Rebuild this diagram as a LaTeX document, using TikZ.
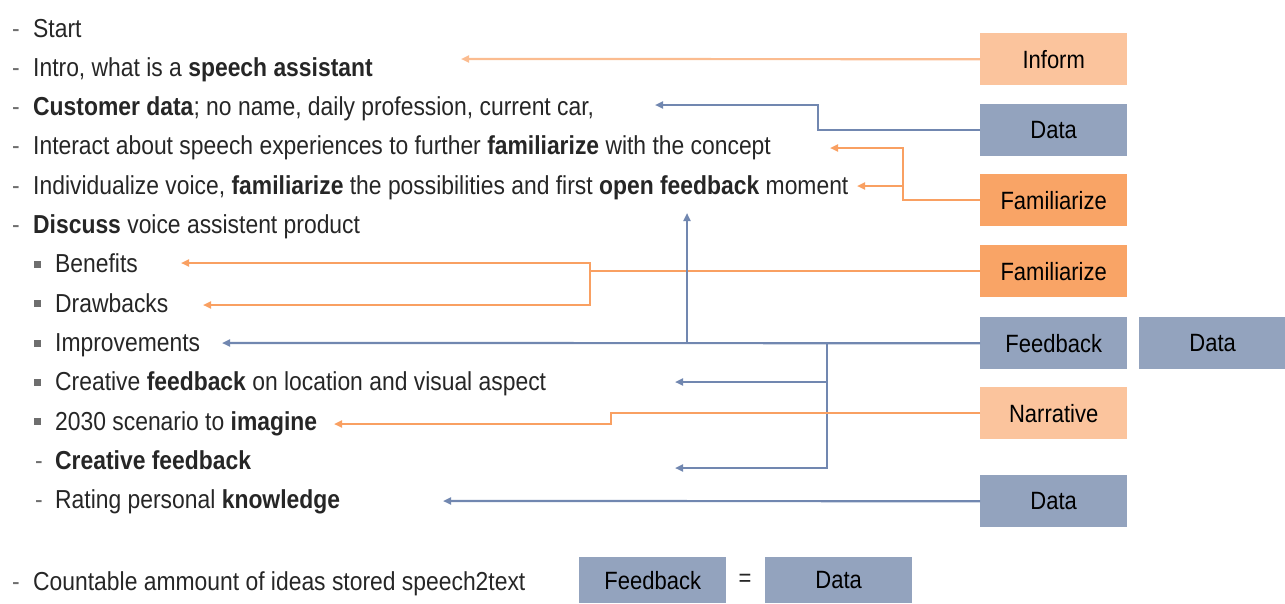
\documentclass[tikz,border=0pt]{standalone}
\usepackage{fontspec}
\setmainfont{Liberation Sans}[FakeStretch=0.88]
\usetikzlibrary{arrows.meta}
\definecolor{boxblue}{HTML}{93A3BE}
\definecolor{boxorange}{HTML}{F9A466}
\definecolor{boxpeach}{HTML}{FBC49D}
\definecolor{lineblue}{HTML}{7187B0}
\definecolor{lineorange}{HTML}{F9A062}
\definecolor{linepeach}{HTML}{FBBC90}
\definecolor{inktext}{HTML}{262626}
\definecolor{bulletgrey}{HTML}{6E6E6E}
\begin{document}
\begin{tikzpicture}[x=1pt,y=-1pt,
  every node/.style={font=\fontsize{26}{30}\selectfont},
  item/.style={anchor=base west, inner sep=0pt, text=inktext},
  dashmark/.style={anchor=base west, inner sep=0pt, text=bulletgrey},
  sqbullet/.style={fill=bulletgrey, inner sep=0pt, minimum size=7pt},
  tag/.style={anchor=north west, minimum width=147pt, minimum height=52pt,
    inner sep=0pt, text=black, font=\fontsize{25}{30}\selectfont},
  blueline/.style={draw=lineblue, line width=2.2pt,
    -{Triangle[length=8pt,width=7pt]}},
  orangeline/.style={draw=lineorange, line width=2.2pt,
    -{Triangle[length=8pt,width=7pt]}},
  peachline/.style={draw=linepeach, line width=2.2pt,
    -{Triangle[length=8pt,width=7pt]}}]
\useasboundingbox (0,0) rectangle (1285,603);

% ---- agenda list ----
\node[dashmark] (d0) at (12,37) {-};
\node[item] (l0) at (33,37) {Start};
\node[dashmark] (d1) at (12,76.3) {-};
\node[item] (l1) at (33,76.3) {Intro, what is a \textbf{speech assistant}};
\node[dashmark] (d2) at (12,115.6) {-};
\node[item] (l2) at (33,115.6) {\textbf{Customer data}; no name, daily profession, current car,};
\node[dashmark] (d3) at (12,154.9) {-};
\node[item] (l3) at (33,154.9) {Interact about speech experiences to further \textbf{familiarize} with the concept};
\node[dashmark] (d4) at (12,194.2) {-};
\node[item] (l4) at (33,194.2) {Individualize voice, \textbf{familiarize} the possibilities and first \textbf{open feedback} moment};
\node[dashmark] (d5) at (12,233.5) {-};
\node[item] (l5) at (33,233.5) {\textbf{Discuss} voice assistent product};

\node[sqbullet] (s6) at (37,264) {};
\node[item] (l6) at (55,272.8) {Benefits};
\node[sqbullet] (s7) at (37,303.5) {};
\node[item] (l7) at (55,312.1) {Drawbacks};
\node[sqbullet] (s8) at (37,343) {};
\node[item] (l8) at (55,351.4) {Improvements};
\node[sqbullet] (s9) at (37,382) {};
\node[item] (l9) at (55,390.7) {Creative \textbf{feedback} on location and visual aspect};
\node[sqbullet] (s10) at (37,421.5) {};
\node[item] (l10) at (55,430) {2030 scenario to \textbf{imagine}};
\node[dashmark] (d11) at (35,469.3) {-};
\node[item] (l11) at (55,469.3) {\textbf{Creative feedback}};
\node[dashmark] (d12) at (35,508.6) {-};
\node[item] (l12) at (55,508.6) {Rating personal \textbf{knowledge}};

\node[dashmark] (d13) at (12,590) {-};
\node[item] (l13) at (33,590) {Countable ammount of ideas stored speech2text};

% ---- category tags ----
\node[tag, fill=boxpeach]  (inform) at (980,33)  {Inform};
\node[tag, fill=boxblue]   (data1)  at (980,104) {Data};
\node[tag, fill=boxorange] (fam1)   at (980,174) {Familiarize};
\node[tag, fill=boxorange] (fam2)   at (980,245) {Familiarize};
\node[tag, fill=boxblue]   (fb)     at (980,317) {Feedback};
\node[tag, fill=boxblue]   (data2)  at (1139,317) {Data};
\node[tag, fill=boxpeach]  (narr)   at (980,387) {Narrative};
\node[tag, fill=boxblue]   (data3)  at (980,475) {Data};
\node[tag, fill=boxblue, minimum height=46pt] (fb2)   at (579,557) {Feedback};
\node[tag, fill=boxblue, minimum height=46pt] (data4) at (765,557) {Data};
\node[text=inktext, font=\fontsize{25}{30}\selectfont] (eq) at (745,580) {=};

% ---- arrow targets and junctions ----
\coordinate (tInform) at (461,59);
\coordinate (tData)   at (655,105);
\coordinate (tFamA)   at (830,148);
\coordinate (tFamB)   at (857,186);
\coordinate (tBen)    at (181,263);
\coordinate (tDraw)   at (203,305);
\coordinate (tImp)    at (222,343);
\coordinate (tOpen)   at (687,213);
\coordinate (jOpen)   at (687,343);
\coordinate (jCre)    at (827,343);
\coordinate (tCreA)   at (675,382);
\coordinate (tCreB)   at (675,468);
\coordinate (tImag)   at (334,424);
\coordinate (tKnow)   at (443,501);

% ---- connectors ----
\draw[peachline] (inform.west) -- (tInform);
\draw[blueline] (data1.west) -- ++(-162,0) |- (tData);
\draw[orangeline] (fam1.west) -- ++(-77,0) coordinate (jFam) |- (tFamA);
\draw[orangeline] (jFam |- tFamB) -- (tFamB);
\draw[orangeline] (fam2.west) -- ++(-390,0) coordinate (jBen) |- (tBen);
\draw[orangeline] (jBen) |- (tDraw);
\draw[blueline] (fb.west) -- (tImp);
\draw[blueline] (jOpen) -- (tOpen);
\draw[blueline] (jCre) |- (tCreA);
\draw[blueline] (jCre) |- (tCreB);
\draw[orangeline] (narr.west) -- ++(-369,0) |- (tImag);
\draw[blueline] (data3.west) -- (tKnow);
\end{tikzpicture}
\end{document}
